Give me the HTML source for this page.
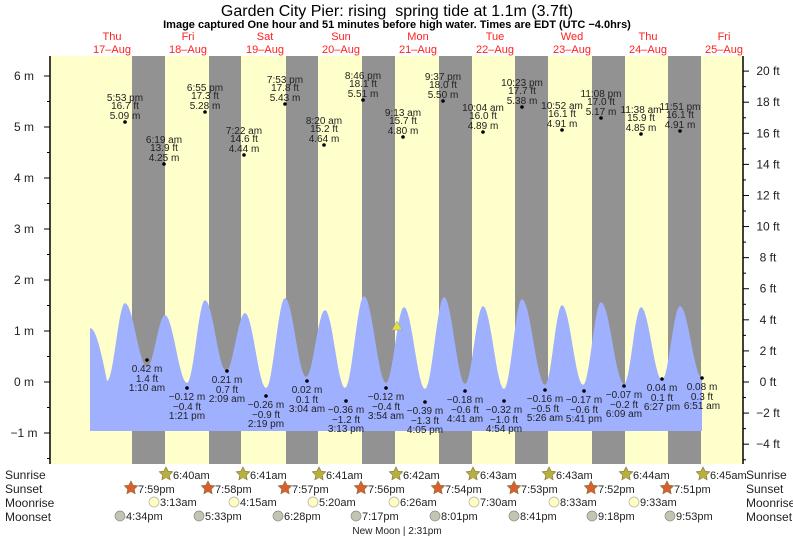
<!DOCTYPE html>
<html><head><meta charset="utf-8"><style>
body{margin:0;background:#fff}
svg{display:block;font-family:"Liberation Sans",Arial,sans-serif}
</style></head><body>
<svg id="s" width="793" height="538" xmlns="http://www.w3.org/2000/svg">
<rect x="50" y="56" width="693" height="408" fill="#ffffcc"/>
<g fill="#929292">
<rect x="132" y="56" width="33" height="408"/><rect x="209" y="56" width="32" height="408"/>
<rect x="286" y="56" width="32" height="408"/><rect x="362" y="56" width="33" height="408"/>
<rect x="439" y="56" width="33" height="408"/><rect x="515" y="56" width="33" height="408"/>
<rect x="592" y="56" width="33" height="408"/><rect x="668" y="56" width="33" height="408"/>
</g>
<path id="tide" fill="#9fb0ff" d=""/>
<polygon points="397,321 392,330 402,330" fill="#e0e040" stroke="#999" stroke-width="0.5"/>
<line x1="50" y1="56" x2="50" y2="464" stroke="#000" stroke-width="1.5"/>
<line x1="743" y1="56" x2="743" y2="464" stroke="#000" stroke-width="1.5"/>
<g id="ticks" stroke="#000" stroke-width="1"></g>
<g id="txt" font-size="10" fill="#222" text-anchor="middle"></g>
<text x="397" y="16" font-size="16" text-anchor="middle">Garden City Pier: rising&#160; spring tide at 1.1m (3.7ft)</text>
<text x="397" y="28" font-size="11" font-weight="bold" text-anchor="middle">Image captured One hour and 51 minutes before high water. Times are EDT (UTC −4.0hrs)</text>
<g font-size="11" fill="#ff2020" text-anchor="middle">
<text x="112" y="40">Thu</text><text x="112" y="53">17–Aug</text>
<text x="188" y="40">Fri</text><text x="188" y="53">18–Aug</text>
<text x="265" y="40">Sat</text><text x="265" y="53">19–Aug</text>
<text x="341" y="40">Sun</text><text x="341" y="53">20–Aug</text>
<text x="418" y="40">Mon</text><text x="418" y="53">21–Aug</text>
<text x="495" y="40">Tue</text><text x="495" y="53">22–Aug</text>
<text x="572" y="40">Wed</text><text x="572" y="53">23–Aug</text>
<text x="648" y="40">Thu</text><text x="648" y="53">24–Aug</text>
<text x="724" y="40">Fri</text><text x="724" y="53">25–Aug</text>
</g>
<g font-size="12" fill="#222">
<text x="5" y="479">Sunrise</text><text x="5" y="493">Sunset</text><text x="5" y="507">Moonrise</text><text x="5" y="521">Moonset</text>
<text x="746" y="479">Sunrise</text><text x="746" y="493">Sunset</text><text x="746" y="507">Moonrise</text><text x="746" y="521">Moonset</text>
</g>
<g id="icons"></g>
<text x="397" y="534" font-size="10" fill="#222" text-anchor="middle">New Moon | 2:31pm</text>
</svg>
<script>
var NS="http://www.w3.org/2000/svg";
function el(p,t,a,tx){var e=document.createElementNS(NS,t);for(var k in a)e.setAttribute(k,a[k]);if(tx!=null)e.textContent=tx;document.getElementById(p).appendChild(e);return e;}
var pts=[[90,328],[107,381],[125,303],[147,367],[165,315],[187,383],[205,300],[226,371],[245,313],[266,388],[285,298],[306,377],[325,310],[345,388],[364,296],[386,383],[404,307],[425,389],[444,297],[465,384],[483,306],[504,389],[522,299],[545,385],[562,305],[583,385],[601,302],[624,384],[641,307],[662,380],[680,306],[702,378]];
var d="M90,431 L90,328";
for(var i=1;i<pts.length;i++){var a=pts[i-1],b=pts[i];var first=(i==1);
 for(var s=1;s<=12;s++){var f=s/12;var x=a[0]+(b[0]-a[0])*f;var y;
  if(first){y=a[1]+(b[1]-a[1])*(1-Math.cos(f*Math.PI/2));} else y=a[1]+(b[1]-a[1])*(1-Math.cos(f*Math.PI))/2;
  d+=" L"+x.toFixed(1)+","+y.toFixed(1);}}
d+=" L702,431 Z";document.getElementById("tide").setAttribute("d",d);
var mlab=[6,5,4,3,2,1,0,-1];
for(var m=-1.5;m<=6.5;m+=0.5){var y=382-51*m;if(y<56||y>464)continue;var L=(m%1==0)?6:3;el("ticks","line",{x1:50-L,y1:y,x2:50,y2:y});}
mlab.forEach(function(m){el("txt","text",{x:24,y:382-51*m+4,"font-size":12,fill:"#222"},(m<0?"−"+(-m):m)+" m");});
for(var f=-5;f<=21;f++){var y=382-51*f*0.3048;if(y<56||y>464)continue;var L=(f%2==0)?6:3;el("ticks","line",{x1:743,y1:y,x2:743+L,y2:y});
 if(f%2==0)el("txt","text",{x:768,y:y+4,"font-size":12,fill:"#222"},(f<0?"−"+(-f):f)+" ft");}
var hi=[[125,122,"5:53 pm","16.7 ft","5.09 m"],[164,164,"6:19 am","13.9 ft","4.25 m"],[205,112,"6:55 pm","17.3 ft","5.28 m"],[244,155,"7:22 am","14.6 ft","4.44 m"],[285,104,"7:53 pm","17.8 ft","5.43 m"],[324,145,"8:20 am","15.2 ft","4.64 m"],[363,100,"8:46 pm","18.1 ft","5.51 m"],[403,137,"9:13 am","15.7 ft","4.80 m"],[443,101,"9:37 pm","18.0 ft","5.50 m"],[483,132,"10:04 am","16.0 ft","4.89 m"],[522,107,"10:23 pm","17.7 ft","5.38 m"],[562,130,"10:52 am","16.1 ft","4.91 m"],[601,118,"11:08 pm","17.0 ft","5.17 m"],[641,134,"11:38 am","15.9 ft","4.85 m"],[680,131,"11:51 pm","16.1 ft","4.91 m"]];
hi.forEach(function(h){el("txt","circle",{cx:h[0],cy:h[1],r:1.8,fill:"#000"});
 el("txt","text",{x:h[0],y:h[1]-21},h[2]);el("txt","text",{x:h[0],y:h[1]-13},h[3]);el("txt","text",{x:h[0],y:h[1]-3},h[4]);});
var lo=[[147,360,"0.42 m","1.4 ft","1:10 am"],[187,388,"−0.12 m","−0.4 ft","1:21 pm"],[227,371,"0.21 m","0.7 ft","2:09 am"],[266,396,"−0.26 m","−0.9 ft","2:19 pm"],[307,381,"0.02 m","0.1 ft","3:04 am"],[346,401,"−0.36 m","−1.2 ft","3:13 pm"],[386,388,"−0.12 m","−0.4 ft","3:54 am"],[425,402,"−0.39 m","−1.3 ft","4:05 pm"],[465,391,"−0.18 m","−0.6 ft","4:41 am"],[504,401,"−0.32 m","−1.0 ft","4:54 pm"],[545,390,"−0.16 m","−0.5 ft","5:26 am"],[584,391,"−0.17 m","−0.6 ft","5:41 pm"],[624,386,"−0.07 m","−0.2 ft","6:09 am"],[662,379,"0.04 m","0.1 ft","6:27 pm"],[702,378,"0.08 m","0.3 ft","6:51 am"]];
lo.forEach(function(h){el("txt","circle",{cx:h[0],cy:h[1],r:1.8,fill:"#000"});
 el("txt","text",{x:h[0],y:h[1]+12},h[2]);el("txt","text",{x:h[0],y:h[1]+22},h[3]);el("txt","text",{x:h[0],y:h[1]+31},h[4]);});
function star(cx,cy,fill){var p="";for(var i=0;i<10;i++){var r=i%2?3.5:7;var a=-Math.PI/2+i*Math.PI/5;p+=(cx+r*Math.cos(a)).toFixed(1)+","+(cy+r*Math.sin(a)).toFixed(1)+" ";}
 el("icons","polygon",{points:p,fill:fill,stroke:"#8a7a40","stroke-width":0.7});el("icons","circle",{cx:cx,cy:cy+0.5,r:3.6,fill:fill});}
var sr=[[166,"6:40am"],[243,"6:41am"],[319,"6:41am"],[396,"6:42am"],[473,"6:43am"],[549,"6:43am"],[626,"6:44am"],[703,"6:45am"]];
sr.forEach(function(s){star(s[0],474,"#b5b040");el("icons","text",{x:s[0]+7,y:479,"font-size":11,fill:"#222"},s[1]);});
var ss=[[131,"7:59pm"],[208,"7:58pm"],[285,"7:57pm"],[361,"7:56pm"],[438,"7:54pm"],[514,"7:53pm"],[591,"7:52pm"],[667,"7:51pm"]];
ss.forEach(function(s){star(s[0],488,"#d86030");el("icons","text",{x:s[0]+7,y:493,"font-size":11,fill:"#222"},s[1]);});
var mr=[[154,"3:13am"],[234,"4:15am"],[313,"5:20am"],[394,"6:26am"],[474,"7:30am"],[554,"8:33am"],[634,"9:33am"]];
mr.forEach(function(s){el("icons","circle",{cx:s[0],cy:502,r:5,fill:"#ffffc0",stroke:"#aaa","stroke-width":0.7});el("icons","text",{x:s[0]+6,y:506,"font-size":11,fill:"#222"},s[1]);});
var ms=[[120,"4:34pm"],[199,"5:33pm"],[278,"6:28pm"],[356,"7:17pm"],[435,"8:01pm"],[514,"8:41pm"],[592,"9:18pm"],[670,"9:53pm"]];
ms.forEach(function(s){el("icons","circle",{cx:s[0],cy:516,r:5,fill:"#c4c4b0",stroke:"#888","stroke-width":0.7});el("icons","text",{x:s[0]+6,y:520,"font-size":11,fill:"#222"},s[1]);});
</script>
</body></html>
